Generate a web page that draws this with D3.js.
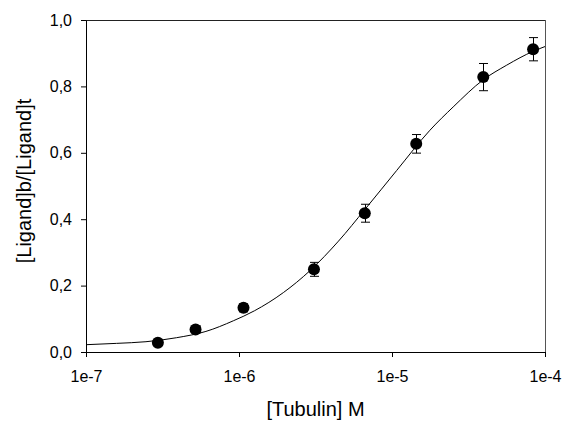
<!DOCTYPE html>
<html>
<head>
<meta charset="utf-8">
<script src="https://cdn.jsdelivr.net/npm/d3@7"></script>
<style>
  html, body { margin: 0; padding: 0; background: #fff; }
  svg { display: block; }
  text { font-family: Arial, "Liberation Sans", sans-serif; fill: #000; }
</style>
</head>
<body>
<svg id="chart" width="564" height="421"></svg>
<script>
// Measured data points: tubulin concentration (M), bound fraction, error
const concentrations = [2.95e-7, 5.2e-7, 1.07e-6, 3.09e-6, 6.64e-6, 1.44e-5, 3.95e-5, 8.36e-5];
const boundFraction  = [0.028, 0.068, 0.133, 0.249, 0.418, 0.627, 0.828, 0.912];
const errors         = [0.008, 0.010, 0.012, 0.021, 0.027, 0.028, 0.041, 0.035];

// Fitted curve
const curveX = [1e-7, 1.585e-7, 2.466e-7, 3.9e-7, 6.08e-7, 9.18e-7, 1.26e-6, 1.95e-6, 2.91e-6, 4.47e-6,
                6.67e-6, 1.074e-5, 1.77e-5, 2.51e-5, 3.95e-5, 5.62e-5, 8.39e-5, 1e-4];
const curveY = [0.022, 0.026, 0.031, 0.043, 0.062, 0.094, 0.124, 0.179, 0.245, 0.334,
                0.430, 0.547, 0.668, 0.738, 0.820, 0.864, 0.906, 0.920];

// Axis ticks
const xTicks = [1e-7, 1e-6, 1e-5, 1e-4];
const xTickLabels = ["1e-7", "1e-6", "1e-5", "1e-4"];
const yTicks = [0, 0.2, 0.4, 0.6, 0.8, 1.0];
const yTickLabels = ["0,0", "0,2", "0,4", "0,6", "0,8", "1,0"];

const xTitle = "[Tubulin] M";
const yTitle = "[Ligand]b/[Ligand]t";

const svg = d3.select("#chart");
const L = 86, R = 545, T = 20, B = 352;

const x = d3.scaleLog().domain([1e-7, 1e-4]).range([L, R]);
const y = d3.scaleLinear().domain([0, 1]).range([B, T]);

// frame (top & right)
svg.append("line").attr("x1", L).attr("x2", R).attr("y1", T + 0.5).attr("y2", T + 0.5)
  .attr("stroke", "#222").attr("stroke-width", 1);
svg.append("line").attr("x1", R + 0.5).attr("x2", R + 0.5).attr("y1", T).attr("y2", B)
  .attr("stroke", "#555").attr("stroke-width", 1);

// axes
const xAxis = d3.axisBottom(x).tickValues(xTicks)
  .tickFormat((d, i) => xTickLabels[i]).tickSizeInner(5).tickSizeOuter(0).tickPadding(6);
const gx = svg.append("g").attr("transform", `translate(0,${B})`).call(xAxis);
gx.selectAll("text").style("font-size", "16px").attr("dy", "1.2em");

const yAxis = d3.axisLeft(y).tickValues(yTicks)
  .tickFormat((d, i) => yTickLabels[i]).tickSizeInner(5).tickSizeOuter(0).tickPadding(9);
const gy = svg.append("g").attr("transform", `translate(${L},0)`).call(yAxis);
gy.selectAll("text").style("font-size", "16px");

svg.selectAll(".domain").attr("stroke", "#000");
svg.selectAll(".tick line").attr("stroke", "#000");

// fitted curve
const pts = curveX.map((c, i) => [c, curveY[i]]);
svg.append("path").datum(pts)
  .attr("fill", "none").attr("stroke", "#000").attr("stroke-width", 1)
  .attr("d", d3.line().x(d => x(d[0])).y(d => y(d[1])).curve(d3.curveMonotoneX));

// error bars
const data = concentrations.map((c, i) => ({ c, v: boundFraction[i], e: errors[i] }));
const eb = svg.append("g").attr("stroke", "#000").attr("stroke-width", 1);
data.forEach(d => {
  const cx = Math.round(x(d.c)) + 0.5;
  eb.append("line").attr("x1", cx).attr("x2", cx).attr("y1", y(d.v + d.e)).attr("y2", y(d.v - d.e));
  eb.append("line").attr("x1", cx - 4.5).attr("x2", cx + 4.5).attr("y1", y(d.v + d.e)).attr("y2", y(d.v + d.e));
  eb.append("line").attr("x1", cx - 4.5).attr("x2", cx + 4.5).attr("y1", y(d.v - d.e)).attr("y2", y(d.v - d.e));
});

// markers
svg.append("g").selectAll("circle").data(data).join("circle")
  .attr("cx", d => x(d.c)).attr("cy", d => y(d.v)).attr("r", 6).attr("fill", "#000");

// titles
svg.append("text").attr("x", (L + R) / 2).attr("y", 416)
  .attr("text-anchor", "middle").style("font-size", "20px").text(xTitle);
svg.append("text").attr("transform", "translate(31,181) rotate(-90)")
  .attr("text-anchor", "middle").style("font-size", "20px").text(yTitle);
</script>
</body>
</html>
